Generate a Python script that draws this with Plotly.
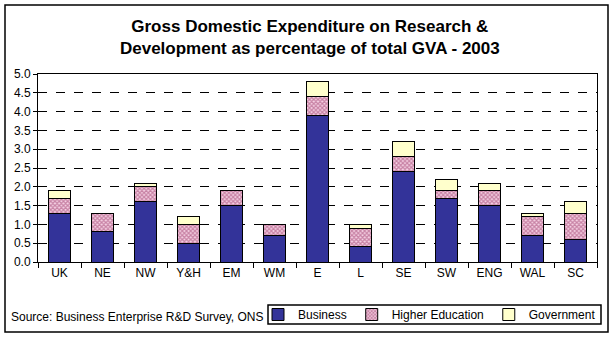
import plotly.graph_objects as go

regions = ["UK", "NE", "NW", "Y&H", "EM", "WM", "E", "L", "SE", "SW", "ENG", "WAL", "SC"]
business = [1.3, 0.8, 1.6, 0.5, 1.5, 0.7, 3.9, 0.4, 2.4, 1.7, 1.5, 0.7, 0.6]
higher_education = [0.4, 0.5, 0.4, 0.5, 0.4, 0.3, 0.5, 0.5, 0.4, 0.2, 0.4, 0.5, 0.7]
government = [0.2, 0.0, 0.1, 0.2, 0.0, 0.0, 0.4, 0.1, 0.4, 0.3, 0.2, 0.1, 0.3]

FONT = "Arial, Liberation Sans, sans-serif"
L, R, T, B = 38, 597, 74, 262
W, H = 616, 340

def px(x):
    return (x - L) / (R - L)

def py(y):
    return (B - y) / (B - T)

fig = go.Figure()
fig.add_trace(go.Bar(
    x=regions, y=business, name="Business",
    marker=dict(color="#333399", line=dict(color="black", width=1)),
))
fig.add_trace(go.Bar(
    x=regions, y=higher_education, name="Higher Education",
    marker=dict(color="#ffffff", line=dict(color="black", width=1),
                pattern=dict(shape="x", fgcolor="#993366", bgcolor="#f6d2e4",
                             size=3, solidity=0.65)),
))
fig.add_trace(go.Bar(
    x=regions, y=government, name="Government",
    marker=dict(color="#ffffcc", line=dict(color="black", width=1)),
))

fig.update_layout(
    barmode="stack",
    bargap=0.47,
    width=W, height=H,
    margin=dict(l=L, r=W - R, t=T, b=H - B, pad=0, autoexpand=False),
    paper_bgcolor="white",
    plot_bgcolor="white",
    font=dict(family=FONT, size=12, color="black"),
    title=dict(
        text="<b>Gross Domestic Expenditure on Research &amp;<br>Development as percentage of total GVA - 2003</b>",
        x=0.503, xanchor="center", xref="container",
        y=1 - 32 / H, yanchor="middle", yref="container",
        font=dict(family=FONT, size=17, color="black"),
    ),
    showlegend=True,
    legend=dict(
        orientation="h",
        xref="container", yref="container",
        x=258 / W, xanchor="left",
        y=1 - 314.5 / H, yanchor="middle",
        borderwidth=0,
        bgcolor="rgba(0,0,0,0)",
        font=dict(family=FONT, size=12, color="black"),
        itemwidth=30,
        traceorder="normal",
        itemclick=False,
    ),
    xaxis=dict(
        showline=True, linecolor="black", linewidth=1, mirror=True,
        ticks="outside", ticklen=5, tickcolor="black", tickson="boundaries",
        showgrid=False,
        tickfont=dict(family=FONT, size=12, color="black"),
    ),
    yaxis=dict(
        range=[0, 5], dtick=0.5, tick0=0, tickformat=".1f",
        showline=True, linecolor="black", linewidth=1, mirror=True,
        ticks="outside", ticklen=4, tickcolor="black",
        showgrid=True, gridcolor="black", griddash="dash", gridwidth=1,
        zeroline=False,
        tickfont=dict(family=FONT, size=12, color="black"),
    ),
)

# outer chart border
fig.add_shape(type="rect", xref="paper", yref="paper",
              x0=px(5), x1=px(608), y0=py(332), y1=py(5),
              line=dict(color="black", width=1.5), fillcolor="rgba(0,0,0,0)",
              layer="below")
# legend box
fig.add_shape(type="rect", xref="paper", yref="paper",
              x0=px(268), x1=px(601), y0=py(324), y1=py(305),
              line=dict(color="black", width=1.5), fillcolor="white",
              layer="below")

fig.add_annotation(text="Source: Business Enterprise R&amp;D Survey, ONS",
                   xref="paper", yref="paper", x=px(9), y=py(317),
                   xanchor="left", yanchor="middle", showarrow=False,
                   font=dict(family=FONT, size=12, color="black"))

fig.write_html("out.html")
